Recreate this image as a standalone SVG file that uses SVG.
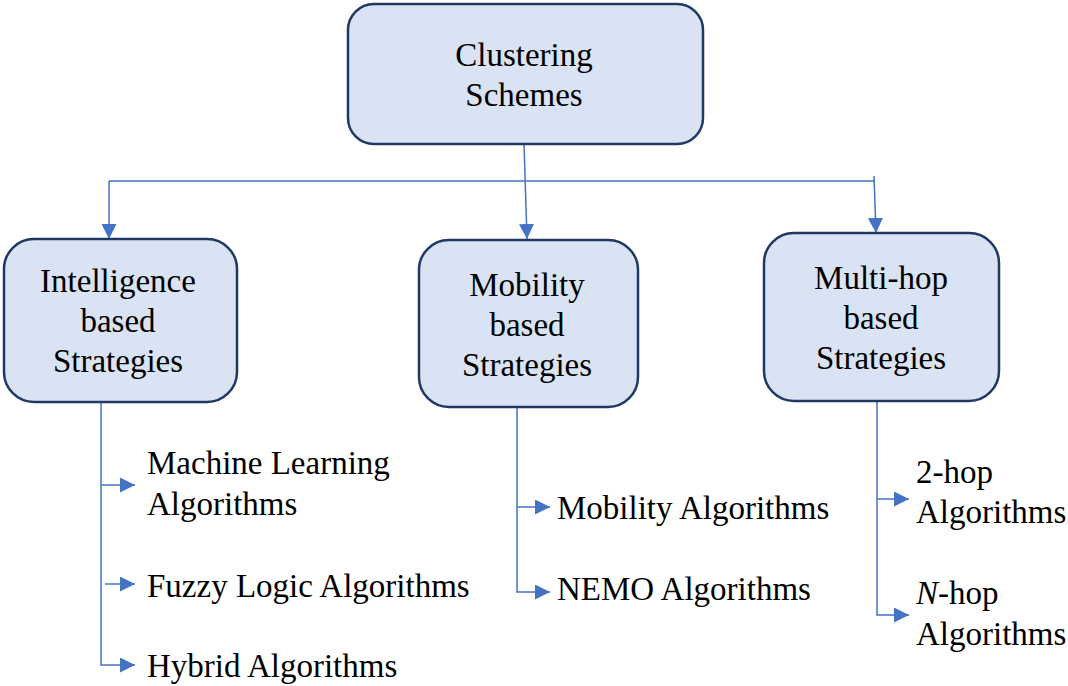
<svg xmlns="http://www.w3.org/2000/svg" width="1068" height="686" viewBox="0 0 1068 686">
<style>
.box{fill:#DAE3F3;stroke:#203864;stroke-width:2.5}
.t{font-family:"Liberation Serif","Times New Roman",serif;font-size:33px;fill:#000}
.c{text-anchor:middle}
.ln{fill:none;stroke:#4472C4;stroke-width:1.5}
</style>
<defs>
<marker id="ah" viewBox="0 0 10 10" refX="10" refY="5" markerWidth="15" markerHeight="15" markerUnits="userSpaceOnUse" orient="auto">
<path d="M0,0 L10,5 L0,10 Z" fill="#4472C4"/>
</marker>
</defs>
<rect width="1068" height="686" fill="#fff"/>
<g id="connectors">
<path class="ln" d="M524,144 L527,239" marker-end="url(#ah)"/>
<path class="ln" d="M109,181 L875,181"/>
<path class="ln" d="M109,181 L109,239" marker-end="url(#ah)"/>
<path class="ln" d="M874,176 L876,233" marker-end="url(#ah)"/>
<path class="ln" d="M101,402 L101,665 L135,665" marker-end="url(#ah)"/>
<path class="ln" d="M101,485 L135,485" marker-end="url(#ah)"/>
<path class="ln" d="M105,584 L135,584" marker-end="url(#ah)"/>
<path class="ln" d="M517,408 L517,592 L550,592" marker-end="url(#ah)"/>
<path class="ln" d="M517,507 L550,507" marker-end="url(#ah)"/>
<path class="ln" d="M877,402 L877,615 L909,615" marker-end="url(#ah)"/>
<path class="ln" d="M877,499 L909,499" marker-end="url(#ah)"/>
</g>
<g id="root">
<rect class="box" x="348" y="4" width="355" height="140" rx="26"/>
<text class="t c" x="524" y="66">Clustering</text>
<text class="t c" x="524" y="106">Schemes</text>
</g>
<g id="intelligence">
<rect class="box" x="4" y="239" width="233" height="163" rx="30"/>
<text class="t c" x="118" y="292">Intelligence</text>
<text class="t c" x="118" y="332">based</text>
<text class="t c" x="118" y="372">Strategies</text>
</g>
<g id="mobility">
<rect class="box" x="419" y="240" width="219" height="167" rx="30"/>
<text class="t c" x="527" y="296">Mobility</text>
<text class="t c" x="527" y="336">based</text>
<text class="t c" x="527" y="376">Strategies</text>
</g>
<g id="multihop">
<rect class="box" x="764" y="233" width="235" height="168" rx="30"/>
<text class="t c" x="881" y="289">Multi-hop</text>
<text class="t c" x="881" y="329">based</text>
<text class="t c" x="881" y="369">Strategies</text>
</g>
<g id="ml">
<text class="t" x="147" y="474">Machine Learning</text>
<text class="t" x="147" y="515">Algorithms</text>
</g>
<g id="fuzzy"><text class="t" x="147" y="597">Fuzzy Logic Algorithms</text></g>
<g id="hybrid"><text class="t" x="147" y="677">Hybrid Algorithms</text></g>
<g id="mobalg"><text class="t" x="557" y="519">Mobility Algorithms</text></g>
<g id="nemo"><text class="t" x="557" y="600">NEMO Algorithms</text></g>
<g id="twohop">
<text class="t" x="916" y="483">2-hop</text>
<text class="t" x="916" y="523">Algorithms</text>
</g>
<g id="nhop">
<text class="t" x="916" y="604"><tspan font-style="italic">N</tspan>-hop</text>
<text class="t" x="916" y="645">Algorithms</text>
</g>
</svg>
